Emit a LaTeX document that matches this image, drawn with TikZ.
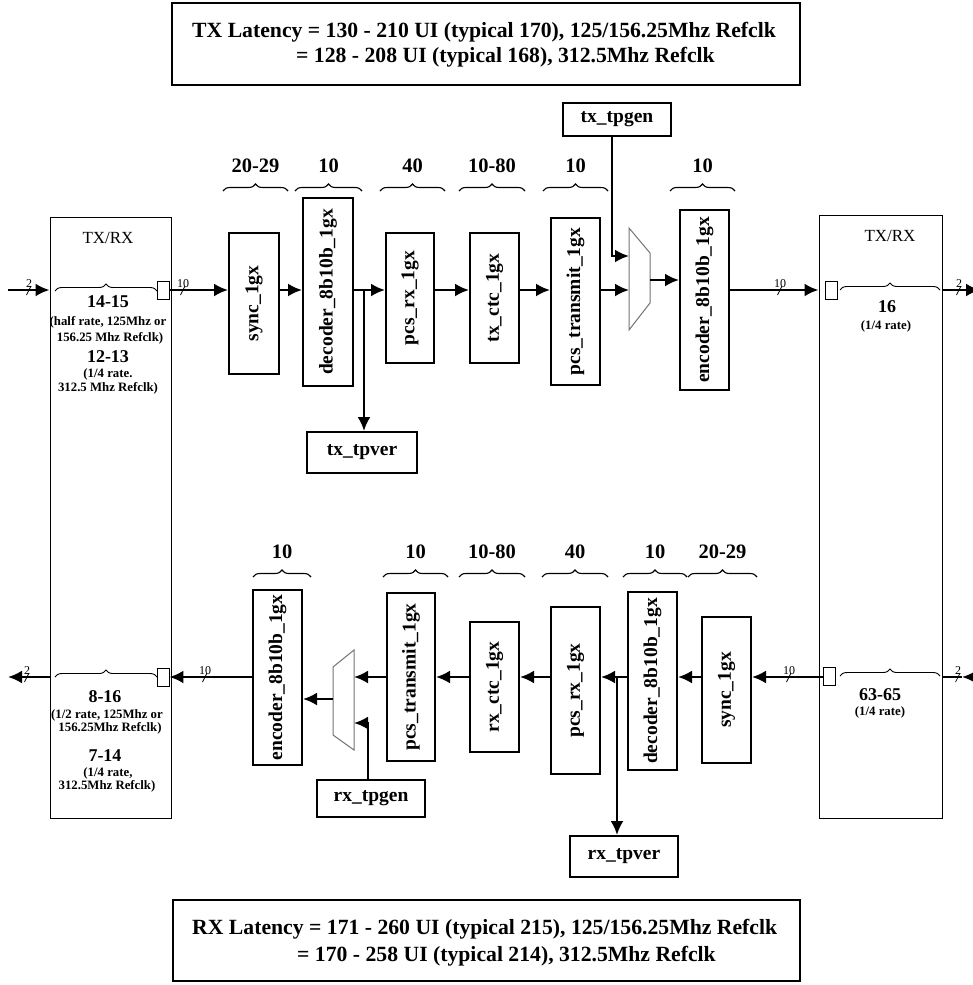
\documentclass[tikz,border=0pt]{standalone}
\usepackage{fontspec}
\setmainfont{Liberation Serif}
\usetikzlibrary{arrows.meta,decorations.pathreplacing,calc}
\newcommand\myfs[1]{\fontsize{#1}{#1}\selectfont}
\tikzset{
  blk/.style={draw, line width=2pt, inner sep=0pt, font=\bfseries\myfs{19.5}},
  bigbox/.style={draw, line width=1pt, inner sep=0pt},
  sq/.style={draw, line width=0.9pt, minimum width=12pt, minimum height=18pt, inner sep=0pt},
  arr/.style={line width=2.4pt, -{Latex[length=14pt,width=13pt]}},
  plainln/.style={line width=2.4pt},
  brc/.style={decorate, decoration={brace, amplitude=7pt}, line width=1.1pt},
  lat/.style={font=\bfseries\myfs{20.5}, anchor=base, inner sep=0pt},
  small/.style={font=\bfseries\myfs{12.8}, anchor=base, inner sep=0pt},
  mid/.style={font=\bfseries\myfs{18}, anchor=base, inner sep=0pt},
  trx/.style={font=\myfs{17}, anchor=base, inner sep=0pt},
  bus/.style={font=\myfs{12}, anchor=base, inner sep=0pt},
  mux/.style={draw=black!55, line width=1pt},
  ltx/.style={font=\bfseries\myfs{21.7}, anchor=base west, inner sep=0pt},
}
\newcommand\busmark[4]{%
  \node[bus] (#1) at (#2,{#3-3}) {#4};
  \draw[line width=0.7pt] ({#2-2.5},{#3+5}) -- ({#2+2},{#3-4});
}
\begin{document}
\begin{tikzpicture}[x=1pt,y=-1pt]
\useasboundingbox (0,0) rectangle (972,985);
% latency boxes
\node[bigbox, line width=1.2pt, minimum width=628pt, minimum height=82pt] (topbox) at (486,44) {};
\node[ltx] (tl1) at (192,37) {TX Latency = 130 - 210 UI (typical 170), 125/156.25Mhz Refclk};
\node[ltx] (tl2) at (296,62) {= 128 - 208 UI (typical 168), 312.5Mhz Refclk};
\node[bigbox, line width=1.2pt, minimum width=627pt, minimum height=81pt] (botbox) at (486.5,940.5) {};
\node[ltx] (bl1) at (192,934) {RX Latency = 171 - 260 UI (typical 215), 125/156.25Mhz Refclk};
\node[ltx] (bl2) at (297,961) {= 170 - 258 UI (typical 214), 312.5Mhz Refclk};

% TX/RX boxes
\node[bigbox, minimum width=121pt, minimum height=601pt] (lbox) at (110.5,517.5) {};
\node[bigbox, minimum width=123pt, minimum height=603pt] (rbox) at (880.5,516.5) {};

\node[trx] (ltr) at (108,243) {TX/RX};
\node[mid] (l1415) at (108,307) {14-15};
\node[small] (lh1) at (108,325) {(half rate, 125Mhz or};
\node[small] (lh2) at (110,341) {156.25 Mhz Refclk)};
\node[mid] (l1213) at (108,362) {12-13};
\node[small] (lq1) at (108,377) {(1/4 rate.};
\node[small] (lq2) at (108,391) {312.5 Mhz Refclk)};

\node[mid] (l816) at (105,702) {8-16};
\node[small] (lb1) at (107,718) {(1/2 rate, 125Mhz or};
\node[small] (lb2) at (110,731) {156.25Mhz Refclk)};
\node[mid] (l714) at (105,761) {7-14};
\node[small] (lb3) at (108,776) {(1/4 rate,};
\node[small] (lb4) at (107,789) {312.5Mhz Refclk)};

\node[trx] (rtr) at (890,241) {TX/RX};
\node[mid] (r16) at (887,312) {16};
\node[small] (rq1) at (886,329) {(1/4 rate)};
\node[mid] (r6365) at (880,700) {63-65};
\node[small] (rq2) at (880,715) {(1/4 rate)};

\node[sq] (lsq1) at (163,290) {};
\node[sq] (lsq2) at (163,677) {};
\node[sq] (rsq1) at (831.5,290) {};
\node[sq] (rsq2) at (829,676) {};

\draw[brc, line width=0.9pt] (55,291) -- (157,291);
\draw[brc, line width=0.9pt] (55,677) -- (157,677);
\draw[brc, line width=0.9pt] (840,290) -- (940,290);
\draw[brc, line width=0.9pt] (840,676) -- (940,676);

% top row blocks
\node[blk, minimum width=50pt, minimum height=141pt] (tsync) at (254,303.5) {\rotatebox{90}{sync\_1gx}};
\node[blk, minimum width=50pt, minimum height=188pt] (tdec) at (328,292) {\rotatebox{90}{decoder\_8b10b\_1gx}};
\node[blk, minimum width=48pt, minimum height=130pt] (tpcsrx) at (410,298) {\rotatebox{90}{pcs\_rx\_1gx}};
\node[blk, minimum width=49pt, minimum height=130pt] (tctc) at (494.5,298) {\rotatebox{90}{tx\_ctc\_1gx}};
\node[blk, minimum width=49pt, minimum height=167pt] (tpcstx) at (575.5,301.5) {\rotatebox{90}{pcs\_transmit\_1gx}};
\node[blk, minimum width=49pt, minimum height=180pt] (tenc) at (704.5,300) {\rotatebox{90}{encoder\_8b10b\_1gx}};
\node[blk, minimum width=108pt, minimum height=33pt] (ttpgen) at (617,119.5) {tx\_tpgen};
\node[blk, minimum width=110pt, minimum height=41pt] (ttpver) at (362,452.5) {tx\_tpver};

% bottom row blocks
\node[blk, minimum width=49pt, minimum height=175pt] (benc) at (277.5,677.5) {\rotatebox{90}{encoder\_8b10b\_1gx}};
\node[blk, minimum width=48pt, minimum height=168pt] (bpcstx) at (411,677) {\rotatebox{90}{pcs\_transmit\_1gx}};
\node[blk, minimum width=49pt, minimum height=130pt] (bctc) at (494.5,687) {\rotatebox{90}{rx\_ctc\_1gx}};
\node[blk, minimum width=49pt, minimum height=167pt] (bpcsrx) at (575.5,690.5) {\rotatebox{90}{pcs\_rx\_1gx}};
\node[blk, minimum width=49pt, minimum height=178pt] (bdec) at (652.5,681) {\rotatebox{90}{decoder\_8b10b\_1gx}};
\node[blk, minimum width=49pt, minimum height=146pt] (bsync) at (726.5,690) {\rotatebox{90}{sync\_1gx}};
\node[blk, minimum width=108pt, minimum height=37pt] (btpgen) at (371,798.5) {rx\_tpgen};
\node[blk, minimum width=108pt, minimum height=41pt] (btpver) at (624,856.5) {rx\_tpver};

% muxes
\draw[mux] (629,228) -- (650,253) -- (650,303) -- (629,330) -- cycle;
\draw[mux] (354,650) -- (354,750) -- (333,735) -- (333,667) -- cycle;
\coordinate (tmi1) at (629,256);
\coordinate (tmi2) at (629,290);
\coordinate (tmo) at (650,280);
\coordinate (bmi1) at (354,677);
\coordinate (bmi2) at (354,723);
\coordinate (bmo) at (333,699);

% braces and latencies
\foreach [count=\i] \a/\b/\t in {223/288/20-29, 295/362/10, 380/445/40, 459/525/10-80, 543/608/10, 670/735/10} {
  \draw[brc] (\a,191) -- (\b,191);
  \node[lat] (tlab\i) at ({(\a+\b)/2},172) {\t};
}
\foreach [count=\i] \a/\b/\t in {253/311/10, 383/448/10, 459/525/10-80, 542/608/40, 623/687/10, 688/757/20-29} {
  \draw[brc] (\a,577) -- (\b,577);
  \node[lat] (blab\i) at ({(\a+\b)/2},558) {\t};
}

% top row connectors
\coordinate (r1) at (0,290);
\coordinate (lin) at (8,290);
\coordinate (rout) at (980,290);
\coordinate (tbr) at (364,290);
\draw[arr] (lin) -- (lbox.west |- r1);
\draw[arr] (lsq1.east) -- (tsync.west |- r1);
\draw[arr] (tsync.east |- r1) -- (tdec.west |- r1);
\draw[arr] (tdec.east |- r1) -- (tpcsrx.west |- r1);
\draw[arr] (tbr) -- (tbr |- ttpver.north);
\draw[arr] (tpcsrx.east |- r1) -- (tctc.west |- r1);
\draw[arr] (tctc.east |- r1) -- (tpcstx.west |- r1);
\draw[arr] (tpcstx.east |- r1) -- (tmi2);
\draw[arr] ([xshift=-5pt]ttpgen.south) |- (tmi1);
\draw[arr] (tmo) -- (tenc.west |- tmo);
\draw[arr] (tenc.east |- r1) -- (rbox.west |- r1);
\draw[arr] (rbox.east |- r1) -- (rout);

% bottom row connectors
\coordinate (r2) at (0,677);
\coordinate (lout) at (8,677);
\coordinate (rin) at (962,677);
\coordinate (rinx) at (985,677);
\coordinate (bbr) at (617,677);
\draw[arr] (rsq2.west |- r2) -- (bsync.east |- r2);
\draw[arr] (bsync.west |- r2) -- (bdec.east |- r2);
\draw[arr] (bdec.west |- r2) -- (bpcsrx.east |- r2);
\draw[arr] (bbr) -- (bbr |- btpver.north);
\draw[arr] (bpcsrx.west |- r2) -- (bctc.east |- r2);
\draw[arr] (bctc.west |- r2) -- (bpcstx.east |- r2);
\draw[arr] (bpcstx.west |- r2) -- (bmi1);
\draw[arr] ([xshift=-3pt]btpgen.north) |- (bmi2);
\draw[arr] (bmo) -- (benc.east |- bmo);
\draw[arr] (benc.west |- r2) -- (lsq2.east);
\draw[arr] (lbox.west |- r2) -- (lout);
\draw[plainln] (rbox.east |- r2) -- (rin);
\draw[arr] (rinx) -- (rin);

% bus width marks
\busmark{bu1}{29}{290}{2}
\busmark{bu2}{183}{290}{10}
\busmark{bu3}{780}{290}{10}
\busmark{bu4}{959}{290}{2}
\busmark{bu5}{27}{677}{2}
\busmark{bu6}{205}{677}{10}
\busmark{bu7}{789}{677}{10}
\busmark{bu8}{958}{677}{2}
\end{tikzpicture}
\end{document}
